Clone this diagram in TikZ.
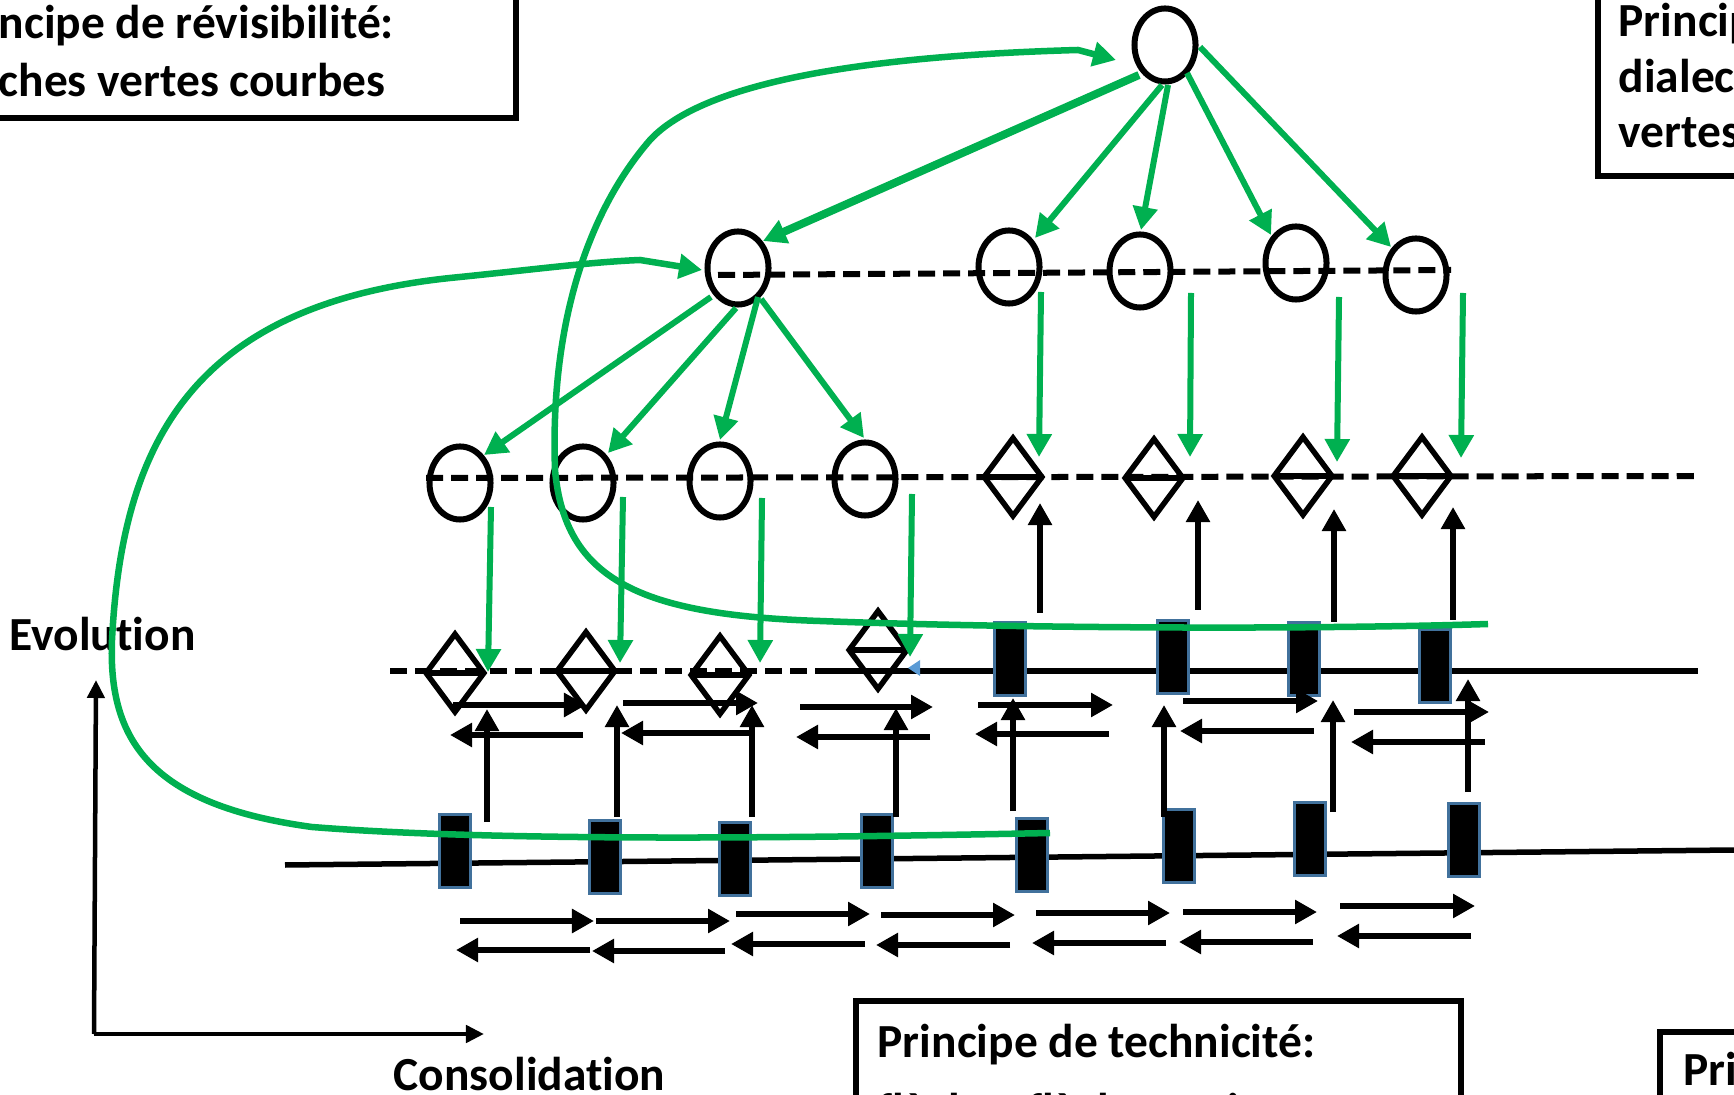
\documentclass[tikz,border=0pt]{standalone}
\usepackage{fontspec}
\setmainfont{Carlito}[Ligatures=NoCommon]
\usetikzlibrary{arrows.meta,calc,shapes.geometric}
\definecolor{vert}{RGB}{0,176,80}
\definecolor{bordbleu}{RGB}{65,113,156}
\definecolor{bleuclair}{RGB}{91,155,213}
\tikzset{
  noeud/.style={ellipse,draw,line width=0.06cm,minimum width=0.61cm,minimum height=0.73cm,inner sep=0pt},
  losange/.style={diamond,draw,line width=0.055cm,minimum width=0.60cm,minimum height=0.80cm,inner sep=0pt,
    path picture={\draw[line width=0.055cm] (path picture bounding box.west) -- (path picture bounding box.east);}},
  barre/.style={rectangle,fill=black,draw=bordbleu,line width=0.025cm,minimum width=0.31cm,minimum height=0.73cm,inner sep=0pt},
  fleche verte/.style={draw=vert,line width=0.06cm,-{Triangle[length=0.23cm,width=0.24cm]}},
  courbe/.style={fleche verte,line width=0.065cm},
  noir/.style={line width=0.065cm,-{Triangle[length=0.22cm,width=0.23cm]}},
  niveau/.style={line width=0.06cm,dash pattern=on 0.17cm off 0.08cm},
  trait/.style={line width=0.055cm},
  axe/.style={line width=0.045cm,-{Triangle[length=0.18cm,width=0.17cm]}},
  cadre/.style={draw,line width=0.055cm},
  etiq/.style={anchor=base west,inner sep=0pt}
}

\begin{document}
\begin{tikzpicture}[x=0.01cm,y=-0.01cm,font=\fontsize{13.5}{16.5}\selectfont\bfseries]
  \useasboundingbox (0,0) rectangle (1734,1095);
  \clip (0,0) rectangle (1734,1095);

  % cadres des principes
  \draw[cadre] (-50,-50) rectangle (516,118);
  \node[etiq] (revis1) at (-2,39) {ncipe de révisibilité:};
  \node[etiq] (revis2) at (-2,97) {ches vertes courbes};
  \draw[cadre] (1598,-50) rectangle (1800,176);
  \node[etiq] (dial1) at (1618,37) {Princip};
  \node[etiq] (dial2) at (1618,93) {dialec};
  \node[etiq] (dial3) at (1618,148) {vertes};
  \draw[cadre] (856,1001) rectangle (1461,1160);
  \node[etiq] (tech1) at (877,1057) {Principe de technicité:};
  \node[etiq] (tech2) at (877,1126) {flèches flèches noires};
  \draw[cadre] (1660,1032) rectangle (1800,1160);
  \node[etiq] (autre) at (1683,1085) {Pri};

  % axes
  \coordinate (O) at (94,1034);
  \coordinate (haut) at (96,680);
  \coordinate (droite) at (484,1034);
  \draw[axe] (O) -- (haut);
  \draw[axe] (O) -- (droite);
  \node[etiq] (evol) at (9,651) {Evolution};
  \node[etiq] (conso) at (393,1090) {Consolidation};

  % lignes de niveau
  \draw[niveau] (718,275) -- (1451,270);
  \draw[niveau] (426,478) -- (1698,476);
  \draw[niveau] (390,671) -- (818,671);
  \draw[trait] (818,671) -- (1698,671);
  \draw[trait] (285,865) -- (1734,850);

  % noeuds
  \node[noeud] (racine) at (1165,45) {};
  \node[noeud] (s1) at (738,268) {};
  \node[noeud] (s2) at (1009,267) {};
  \node[noeud] (s3) at (1140,271) {};
  \node[noeud] (s4) at (1296,263) {};
  \node[noeud] (s5) at (1416,275) {};
  \node[noeud] (t1) at (460,483) {};
  \node[noeud] (t2) at (583,483) {};
  \node[noeud] (t3) at (720,481) {};
  \node[noeud] (t4) at (865,479) {};
  \node[losange] (l1) at (1013,477) {};
  \node[losange] (l2) at (1154,478) {};
  \node[losange] (l3) at (1303,476) {};
  \node[losange] (l4) at (1422,476) {};
  \node[losange] (m1) at (455,673) {};
  \node[losange] (m2) at (586,671) {};
  \node[losange] (m3) at (720,675) {};
  \node[losange] (m4) at (878,650) {};
  \node[barre] (b1) at (1010,659) {};
  \node[barre] (b2) at (1173,657) {};
  \node[barre] (b3) at (1304,659) {};
  \node[barre] (b4) at (1435,666) {};
  \foreach \i/\x/\y in {1/455/851, 2/605/857, 3/735/859, 4/877/851, 5/1032/855, 6/1179/846, 7/1310/839, 8/1464/840}
    \node[barre] (c\i) at (\x,\y) {};

  % fleches noires montantes
  \draw[noir] ($(c1)+(32,-29)$) -- ($(m1)+(32,36)$);
  \draw[noir] ($(c2)+(12,-40)$) -- ($(m2)+(31,34)$);
  \draw[noir] ($(c3)+(17,-42)$) -- ($(m3)+(32,30)$);
  \draw[noir] ($(c4)+(19,-34)$) -- ($(m4)+(18,58)$);
  \draw[noir] ($(c5)+(-19,-44)$) -- ($(b1)+(3,39)$);
  \draw[noir] ($(c6)+(-15,-29)$) -- ($(b2)+(-9,48)$);
  \draw[noir] ($(c7)+(23,-27)$) -- ($(b3)+(29,41)$);
  \draw[noir] ($(c8)+(4,-48)$) -- ($(b4)+(33,13)$);
  \draw[noir] ($(b1)+(30,-46)$) -- ($(l1)+(27,26)$);
  \draw[noir] ($(b2)+(25,-47)$) -- ($(l2)+(44,22)$);
  \draw[noir] ($(b3)+(30,-37)$) -- ($(l3)+(31,33)$);
  \draw[noir] ($(b4)+(18,-46)$) -- ($(l4)+(31,31)$);

  % allers-retours
  \foreach \xa/\xb/\y in {453/586/705, 623/758/703, 800/933/707, 978/1113/705, 1183/1318/701, 1354/1489/712,
                         583/450/735, 750/621/733, 930/796/737, 1109/975/734, 1314/1180/731, 1485/1351/742,
                         460/594/921, 596/730/921, 736/870/914, 881/1015/915, 1036/1170/913, 1183/1317/912, 1340/1475/906,
                         590/456/950, 725/592/951, 865/731/944, 1010/876/945, 1166/1032/943, 1313/1179/942, 1471/1337/936}
    \draw[noir] (\xa,\y) -- (\xb,\y);

  % fleches vertes
  \draw[fleche verte,line width=0.08cm] ($(racine)+(-26,30)$) -- ($(s1)+(25,-27)$);
  \draw[fleche verte] ($(racine)+(-3,40)$) -- ($(s2)+(26,-29)$);
  \draw[fleche verte] ($(racine)+(3,40)$) -- ($(s3)+(1,-41)$);
  \draw[fleche verte] ($(racine)+(22,28)$) -- ($(s4)+(-25,-28)$);
  \draw[fleche verte] ($(racine)+(35,2)$) -- ($(s5)+(-25,-28)$);
  \draw[fleche verte] ($(s1)+(-27,29)$) -- ($(t1)+(24,-28)$);
  \draw[fleche verte] ($(s1)+(-2,40)$) -- ($(t2)+(25,-30)$);
  \draw[fleche verte] ($(s1)+(20,29)$) -- ($(t3)+(0,-41)$);
  \draw[fleche verte] ($(s1)+(23,31)$) -- ($(t4)+(-1,-41)$);
  \draw[fleche verte] ($(s2)+(32,25)$) -- ($(l1)+(26,-20)$);
  \draw[fleche verte] ($(s3)+(51,22)$) -- ($(l2)+(36,-21)$);
  \draw[fleche verte] ($(s4)+(43,34)$) -- ($(l3)+(34,-14)$);
  \draw[fleche verte] ($(s5)+(47,18)$) -- ($(l4)+(39,-18)$);
  \draw[fleche verte] ($(t1)+(31,24)$) -- ($(m1)+(33,-1)$);
  \draw[fleche verte] ($(t2)+(40,14)$) -- ($(m2)+(34,-8)$);
  \draw[fleche verte] ($(t3)+(42,17)$) -- ($(m3)+(40,-12)$);
  \draw[fleche verte] ($(t4)+(47,15)$) -- ($(m4)+(32,7)$);

  % courbes de revision
  \coordinate (debutA) at (1488,624);
  \coordinate (debutB) at (1050,833);
  \draw[courbe] (debutA) .. controls (1300,630) and (1000,628) .. (820,621)
    .. controls (640,615) and (565,580) .. (555,470)
    .. controls (550,330) and (585,215) .. (650,140)
    .. controls (710,75) and (900,55) .. (1078,50)
    -- ($(racine)+(-49,15)$);
  \draw[courbe] (debutB) .. controls (800,838) and (500,842) .. (312,827)
    .. controls (150,805) and (108,740) .. (112,640)
    .. controls (122,440) and (195,305) .. (450,278)
    .. controls (530,270) and (590,262) .. (640,260)
    -- ($(s1)+(-36,2)$);

  \fill[bleuclair] (908,668) -- (920,660) -- (920,676) -- cycle;
\end{tikzpicture}
\end{document}
